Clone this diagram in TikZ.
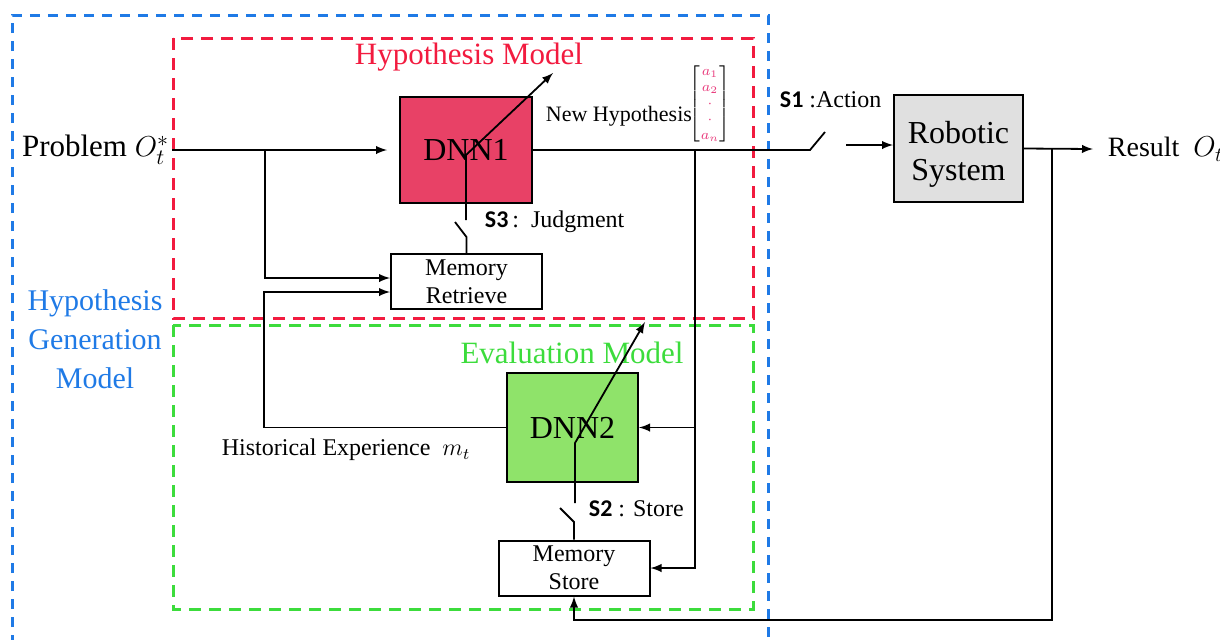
\documentclass[tikz,border=0pt]{standalone}
\usepackage{amsmath}
\usepackage{fontspec}
\setmainfont{Liberation Serif}
\newfontfamily\swfont{Carlito}
\usepackage{tikz}

\definecolor{hypred}{HTML}{F21B3F}
\definecolor{genblue}{HTML}{1F7AE6}
\definecolor{evalgreen}{HTML}{3CDC3C}
\definecolor{dnnone}{HTML}{E84166}
\definecolor{dnntwo}{HTML}{8FE36A}
\definecolor{robgray}{HTML}{E0E0E0}
\definecolor{apink}{HTML}{E8387A}
\newcommand{\fsz}[2]{\fontsize{#1}{#2}\selectfont}

\begin{document}
\begin{tikzpicture}[
            x=0.5pt,y=-0.5pt,
            mynode/.style={
            draw,
            line width=1pt,
            inner sep=0pt,
            align=center
            },
            memnode/.style={
            mynode,
            fill=white,
            minimum width=75.5pt,
            minimum height=27.5pt,
            font=\fsz{12}{14}
            },
            modelbox/.style={
            line width=1.5pt,
            dash pattern=on 6pt off 4pt
            },
            every path/.append style={line width=0.9pt},
            ]
            \useasboundingbox (0,0) rectangle (1220,639);
            % model frames
            \draw[genblue,modelbox,dash pattern=on 5pt off 4pt] (12,645) -- (12,15) -- (768,15) -- (768,645);
            \draw[hypred,modelbox] (173,38) rectangle (753,318);
            \draw[evalgreen,modelbox] (173,325) rectangle (753,609);
            \node[text=hypred,font=\fsz{15.5}{18}] (hyptitle) at (469,57) {Hypothesis Model};
            \node[text=evalgreen,font=\fsz{15.5}{18}] (evaltitle) at (572,353) {Evaluation Model};
            \node[text=genblue,align=center,font=\fsz{15}{19.5}] (gentitle) at (95,339) {Hypothesis\\Generation\\Model};
            % blocks
            \node[mynode,fill=dnnone,minimum width=66pt,minimum height=53pt,font=\fsz{16}{18}] (dnn1) at (466,150) {DNN1};
            \node[memnode] (retrieve) at (466.5,281.5) {Memory\\Retrieve};
            \node[mynode,fill=dnntwo,minimum width=65.5pt,minimum height=54.5pt,font=\fsz{16}{18}] (dnn2) at (572.5,427.5) {DNN2};
            \node[memnode] (store) at (574,568) {Memory\\Store};
            \node[mynode,fill=robgray,minimum width=64.5pt,minimum height=53.5pt,font=\fsz{16}{18.5}] (robot) at (958.5,148.5) {\raisebox{-3pt}[\height][\depth]{\begin{tabular}{@{}c@{}}Robotic\\System\end{tabular}}};
            % texts
            \node[anchor=east,inner sep=1pt,font=\fsz{15.5}{18}] (problem) at (172,150) {Problem $O_t^{*}$};
            \node[anchor=west,inner sep=1pt,font=\fsz{14}{16}] (result) at (1105,149) {Result\ \ $O_t$};
            \node[anchor=west,inner sep=1pt,font=\fsz{11}{13}] (newhyp) at (543,116) {New Hypothesis};
            \node[inner sep=0pt,font=\scriptsize] (vec) at (710,104) {$\begin{bmatrix}\color{apink}a_1\\ \color{apink}a_2\\ \color{apink}\cdot\\ \color{apink}\cdot\\ \color{apink}a_n\end{bmatrix}$};
            \node[anchor=west,inner sep=1pt,font=\fsz{12}{14}] (s3lab) at (482,222) {{\swfont\bfseries S3}\,:\ \ Judgment};
            \node[anchor=west,inner sep=1pt,font=\fsz{12}{14}] (s2lab) at (586,509) {{\swfont\bfseries S2}\ : Store};
            \node[anchor=west,inner sep=1pt,font=\fsz{12}{14}] (s1lab) at (777,100) {{\swfont\bfseries S1}\ :Action};
            \node[anchor=west,inner sep=1pt,font=\fsz{12}{14}] (histlab) at (219,450) {Historical Experience\ \ $m_t$};
            % junctions and switch points
            \coordinate (split) at (265,150);
            \coordinate (hist) at (264,427.5);
            \coordinate (hypsplit) at (695,150);
            \coordinate (evalsplit) at (695,427.5);
            \coordinate (outsplit) at (1052,148.5);
            \coordinate (fbcorner) at (1052,620);
            \coordinate (s1pivot) at (810,150);
            \coordinate (s1blade) at (825,132);
            \coordinate (s1out) at (846,145);
            \coordinate (s3low) at (466.5,237);
            \coordinate (s3blade) at (455,222);
            \coordinate (s3top) at (466,220);
            \coordinate (bend1) at (466,155);
            \coordinate (tip1) at (553,73);
            \coordinate (s2low) at (574,522);
            \coordinate (s2blade) at (560,508);
            \coordinate (s2top) at (575,503);
            \coordinate (bend2) at (575,443);
            \coordinate (tip2) at (645,322);
            % connectors
            \draw[-latex] (problem.east) -- ([xshift=-6pt]dnn1.west);
            \draw[-latex] (split) |- ([yshift=1.75pt]retrieve.west);
            \draw[-latex] (dnn2.west) -- (hist) |- ([yshift=-5.25pt]retrieve.west);
            \draw (retrieve.north) -- (s3low) -- (s3blade);
            \draw[-latex] (s3top) -- (bend1) -- (tip1);
            \draw (dnn1.east) -- (s1pivot) -- (s1blade);
            \draw[-latex] (s1out) -- (s1out -| robot.west);
            \draw[-latex] (hypsplit) |- (store.east);
            \draw[-latex] (evalsplit) -- (dnn2.east);
            \draw[-latex] (robot.east) -- ([xshift=-6pt]result.west);
            \draw[-latex] (outsplit) -- (fbcorner) -| (store.south);
            \draw (store.north) -- (s2low) -- (s2blade);
            \draw[-latex] (s2top) -- (bend2) -- (tip2);
        \end{tikzpicture}
\end{document}
